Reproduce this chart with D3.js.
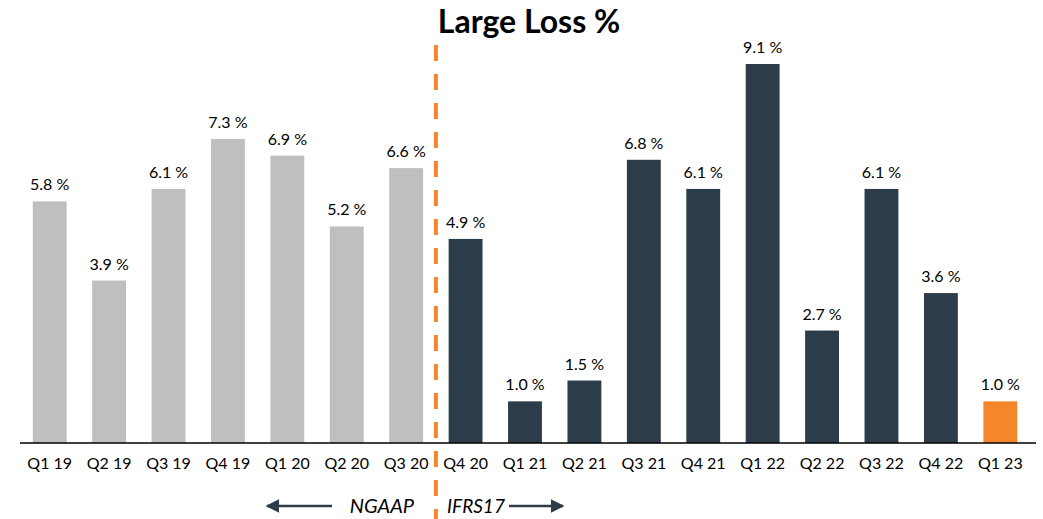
<!DOCTYPE html>
<html>
<head>
<meta charset="utf-8">
<script src="https://cdn.jsdelivr.net/npm/d3@7"></script>
<style>
  body { margin: 0; background: #fff; }
  text { font-family: Lato, "Open Sans", sans-serif; fill: #000; }
</style>
</head>
<body>
<div id="chart"></div>
<script>
const quarters = ["Q1 19","Q2 19","Q3 19","Q4 19","Q1 20","Q2 20","Q3 20","Q4 20","Q1 21","Q2 21","Q3 21","Q4 21","Q1 22","Q2 22","Q3 22","Q4 22","Q1 23"];
const lossPct = [5.8, 3.9, 6.1, 7.3, 6.9, 5.2, 6.6, 4.9, 1.0, 1.5, 6.8, 6.1, 9.1, 2.7, 6.1, 3.6, 1.0];
// 0 = NGAAP, 1 = IFRS17, 2 = latest
const period = [0,0,0,0,0,0,0,1,1,1,1,1,1,1,1,1,2];

const width = 1043, height = 519;
const colors = ["#bfbfbf", "#2c3c48", "#f5862b"];

const svg = d3.select('#chart')
  .append('svg')
    .attr('width', width)
    .attr('height', height);

const x = d3.scaleBand()
    .domain(quarters)
    .range([20, 1030])
    .paddingInner(0.43)
    .paddingOuter(0.215);

const y = d3.scaleLinear()
    .domain([0, 9.1])
    .range([443, 64]);

svg.append('g')
    .selectAll('rect')
    .data(quarters)
    .join('rect')
      .attr('x', d => x(d))
      .attr('y', (d, i) => y(lossPct[i]))
      .attr('width', x.bandwidth())
      .attr('height', (d, i) => y(0) - y(lossPct[i]))
      .attr('fill', (d, i) => colors[period[i]]);

// value labels
svg.append('g')
    .selectAll('text')
    .data(quarters)
    .join('text')
      .attr('x', d => x(d) + x.bandwidth() / 2)
      .attr('y', (d, i) => y(lossPct[i]) - 11)
      .attr('text-anchor', 'middle')
      .style('font-size', '16px')
      .text((d, i) => lossPct[i].toFixed(1) + ' %');

// x axis
const xAxis = d3.axisBottom(x).tickSize(0).tickPadding(15);
const gx = svg.append('g')
    .attr('transform', `translate(0,${y(0)})`)
    .call(xAxis);
gx.select('.domain').attr('stroke', '#000').attr('stroke-width', 1.5).attr('d', 'M20,0H1036');
gx.selectAll('text').style('font-size', '16px').style('font-family', 'Lato, "Open Sans", sans-serif');

// divider between NGAAP and IFRS17
const divX = (x("Q3 20") + x.bandwidth() + x("Q4 20")) / 2;
svg.append('line')
    .attr('x1', divX).attr('x2', divX)
    .attr('y1', 45).attr('y2', 519)
    .attr('stroke', '#f5862b')
    .attr('stroke-width', 4)
    .attr('stroke-dasharray', '16,13');

// title
svg.append('text')
    .attr('x', 529)
    .attr('y', 33)
    .attr('text-anchor', 'middle')
    .style('font-size', '32px')
    .style('font-weight', 'bold')
    .text('Large Loss %');

// arrows + labels
svg.append('defs').append('marker')
    .attr('id', 'head')
    .attr('viewBox', '0 0 10 10')
    .attr('refX', 9).attr('refY', 5)
    .attr('markerWidth', 5.5).attr('markerHeight', 5.5)
    .attr('orient', 'auto-start-reverse')
  .append('path')
    .attr('d', 'M0,0L10,5L0,10Z')
    .attr('fill', '#2c3c48');

svg.append('line')
    .attr('x1', 332).attr('x2', 267)
    .attr('y1', 506).attr('y2', 506)
    .attr('stroke', '#2c3c48').attr('stroke-width', 2.5)
    .attr('marker-end', 'url(#head)');

svg.append('line')
    .attr('x1', 509).attr('x2', 563)
    .attr('y1', 506).attr('y2', 506)
    .attr('stroke', '#2c3c48').attr('stroke-width', 2.5)
    .attr('marker-end', 'url(#head)');

svg.append('text')
    .attr('x', 414).attr('y', 513)
    .attr('text-anchor', 'end')
    .style('font-size', '20px')
    .style('font-style', 'italic')
    .text('NGAAP');

svg.append('text')
    .attr('x', 447).attr('y', 513)
    .style('font-size', '19px')
    .style('font-style', 'italic')
    .text('IFRS17');
</script>
</body>
</html>
